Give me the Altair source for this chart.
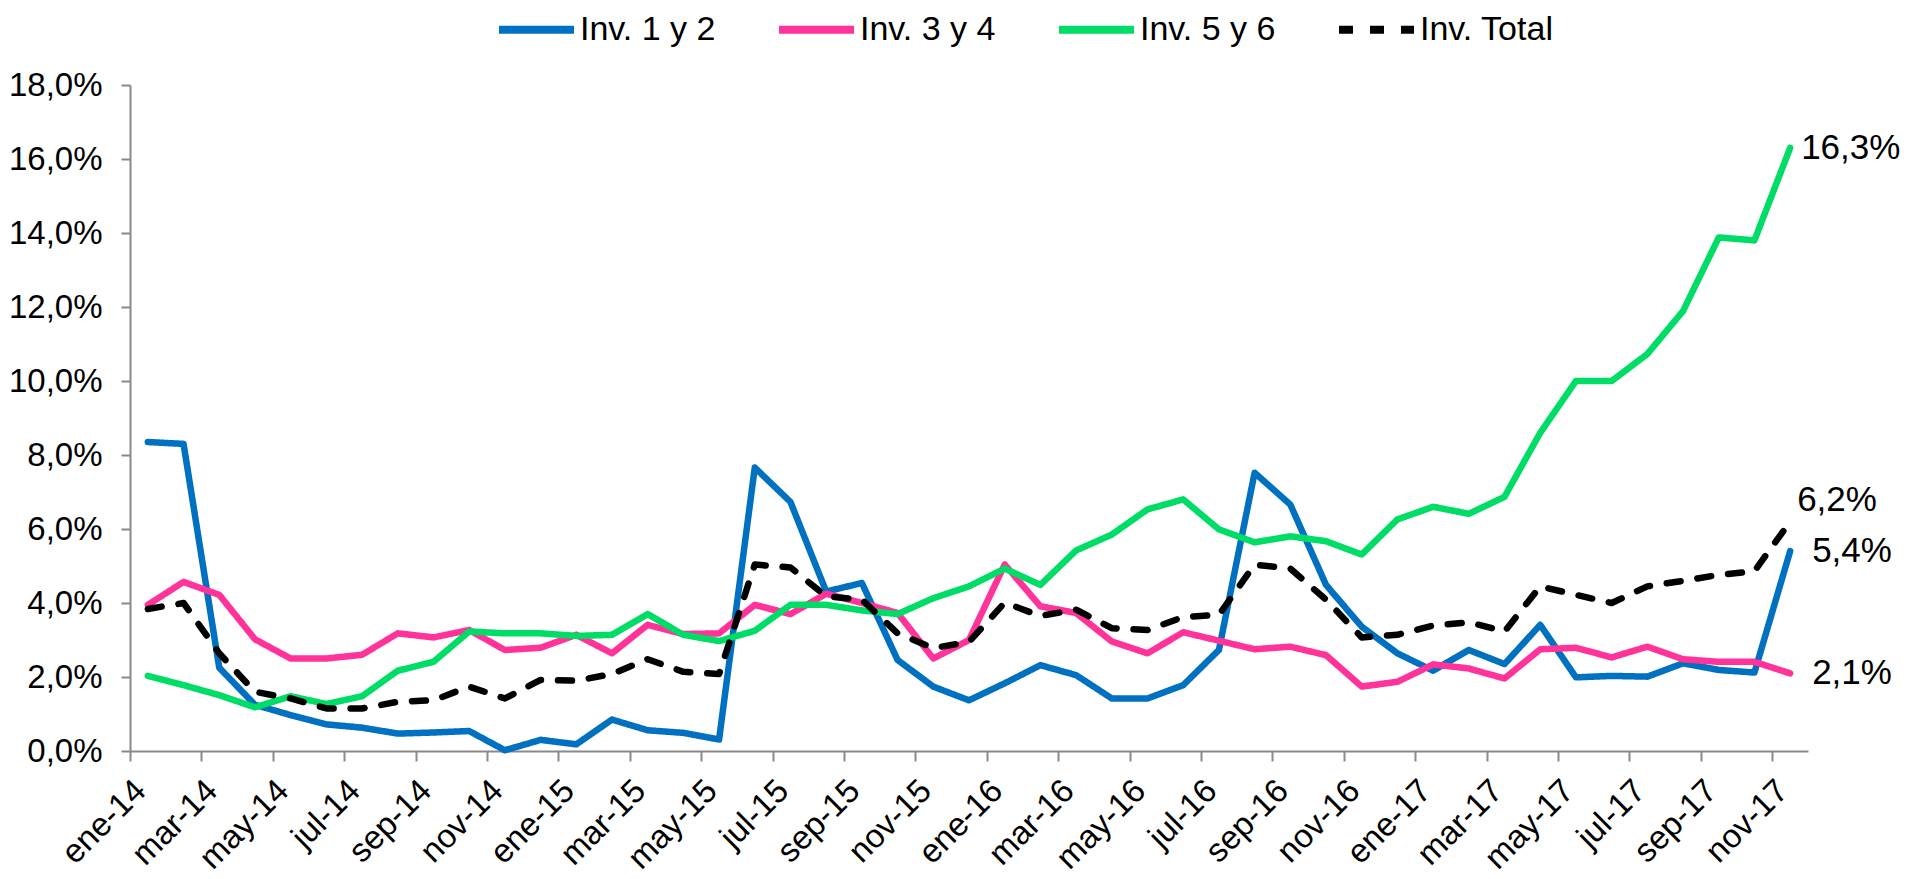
import altair as alt
import pandas as pd

# ---- data ----
month_names = ["ene", "feb", "mar", "abr", "may", "jun", "jul", "ago", "sep", "oct", "nov", "dic"]
months = [f"{m}-{y}" for y in ["14", "15", "16", "17"] for m in month_names][:47]  # ene-14 .. nov-17
tick_months = months[::2]

series_names = ["Inv. 1 y 2", "Inv. 3 y 4", "Inv. 5 y 6", "Inv. Total"]
series_colors = ["#0070C0", "#FF3399", "#00DD66", "#000000"]
series_dash = [[1, 0], [1, 0], [1, 0], [14, 17]]

inv12 = [8.35, 8.3, 2.25, 1.25, 0.97, 0.72, 0.63, 0.47, 0.5, 0.54, 0.02, 0.3, 0.18, 0.85, 0.56,
         0.49, 0.31, 7.66, 6.73, 4.31, 4.54, 2.46, 1.74, 1.37, 1.83, 2.32, 2.05, 1.42, 1.42, 1.78,
         2.73, 7.52, 6.66, 4.49, 3.36, 2.64, 2.17, 2.73, 2.35, 3.41, 1.99, 2.03, 2.01, 2.37, 2.19,
         2.12, 5.4]
inv34 = [3.95, 4.57, 4.22, 3.02, 2.5, 2.5, 2.6, 3.18, 3.07, 3.27, 2.73, 2.79, 3.14, 2.64, 3.41,
         3.16, 3.18, 3.95, 3.7, 4.25, 4.0, 3.73, 2.5, 3.0, 5.04, 3.91, 3.73, 2.96, 2.64, 3.21,
         2.98, 2.75, 2.82, 2.59, 1.74, 1.87, 2.34, 2.23, 1.96, 2.75, 2.79, 2.53, 2.82, 2.48, 2.41,
         2.41, 2.1]
inv56 = [2.03, 1.78, 1.51, 1.18, 1.48, 1.27, 1.48, 2.17, 2.41, 3.23, 3.18, 3.18, 3.11, 3.14, 3.70,
         3.14, 2.97, 3.25, 3.95, 3.95, 3.8, 3.7, 4.13, 4.45, 4.93, 4.49, 5.42, 5.85, 6.53, 6.8,
         5.99, 5.64, 5.8, 5.67, 5.31, 6.26, 6.6, 6.41, 6.87, 8.6, 10.0, 10.0, 10.73, 11.89, 13.88,
         13.8, 16.3]
inv_total = [3.84, 4.0, 2.64, 1.6, 1.42, 1.15, 1.15, 1.33, 1.37, 1.74, 1.42, 1.92, 1.9, 2.08, 2.48,
             2.14, 2.08, 5.04, 4.96, 4.18, 4.09, 3.18, 2.78, 2.95, 4.01, 3.65, 3.82, 3.32, 3.27,
             3.62, 3.68, 5.04, 4.93, 4.09, 3.07, 3.14, 3.39, 3.48, 3.23, 4.45, 4.22, 4.0, 4.45, 4.6,
             4.76, 4.86, 6.2]

end_labels = ["5,4%", "2,1%", "16,3%", "6,2%"]

# ---- table ----
rows = []
for name, vals in zip(series_names, [inv12, inv34, inv56, inv_total]):
    for i, (m, v) in enumerate(zip(months, vals)):
        rows.append({"mes": m, "idx": i, "serie": name, "valor": v})
df = pd.DataFrame(rows)

last = pd.DataFrame({
    "mes": [months[-1]] * 4,
    "serie": series_names,
    "valor": [inv12[-1], inv34[-1], inv56[-1], inv_total[-1]],
    "etiqueta": end_labels,
})

W, H = 1678, 666
BW = W / len(months)
FONT = "Liberation Sans"
AXIS_GRAY = "#898989"

x_scale = alt.Scale(domain=months, paddingInner=0, paddingOuter=0)
y_scale = alt.Scale(domain=[0, 18], nice=False, zero=True)

x_enc = alt.X(
    "mes:N",
    sort=months,
    scale=x_scale,
    axis=alt.Axis(
        values=tick_months,
        title=None,
        labelAngle=-45,
        tickOffset=-BW / 2,
        labelOffset=BW / 2 - 19,
        tickSize=10,
        labelPadding=13,
        labelFontSize=33,
    ),
)
y_enc = alt.Y(
    "valor:Q",
    scale=y_scale,
    axis=alt.Axis(
        values=list(range(0, 19, 2)),
        title=None,
        labelExpr="replace(format(datum.value, '.1f'), '.', ',') + '%'",
        tickSize=9,
        labelPadding=19,
        labelFontSize=33,
    ),
)

legend_kw = dict(
    title=None,
    orient="none",
    direction="horizontal",
    legendX=365,
    legendY=-97,
    symbolType="stroke",
    symbolSize=75 * 75,
    symbolStrokeWidth=8,
    labelFont=FONT,
    labelFontSize=34,
    labelColor="#000000",
    labelOffset=2,
    columnPadding=47,
    labelLimit=400,
)

lines = alt.Chart(df).mark_line(strokeWidth=6.5, strokeCap="round", strokeJoin="round").encode(
    x=x_enc,
    y=y_enc,
    color=alt.Color(
        "serie:N",
        sort=series_names,
        scale=alt.Scale(domain=series_names, range=series_colors),
        legend=alt.Legend(**legend_kw),
    ),
    strokeDash=alt.StrokeDash(
        "serie:N",
        sort=series_names,
        scale=alt.Scale(domain=series_names, range=series_dash),
        legend=alt.Legend(**legend_kw),
    ),
    order=alt.Order("idx:Q"),
)

offsets = {"Inv. 1 y 2": (22, 0), "Inv. 3 y 4": (22, 0), "Inv. 5 y 6": (11, 0), "Inv. Total": (7, -22)}
texts = []
for name in series_names:
    dx, dy = offsets[name]
    texts.append(
        alt.Chart(last[last["serie"] == name]).mark_text(
            align="left", baseline="middle", dx=dx, dy=dy, font=FONT, fontSize=35, color="#000000"
        ).encode(
            x=alt.X("mes:N", sort=months, scale=x_scale),
            y=alt.Y("valor:Q", scale=y_scale),
            text="etiqueta:N",
        )
    )

chart = alt.layer(lines, *texts).properties(
    width=W,
    height=H,
    autosize=alt.AutoSizeParams(type="none"),
    padding={"left": 122, "top": 77, "right": 98, "bottom": 126},
).configure_view(stroke=None).configure_axis(
    grid=False,
    domainColor=AXIS_GRAY,
    domainWidth=2,
    tickColor=AXIS_GRAY,
    tickWidth=2,
    labelFont=FONT,
    labelColor="#000000",
)

chart.save("out.html", embed_options={"renderer": "svg", "actions": False})
